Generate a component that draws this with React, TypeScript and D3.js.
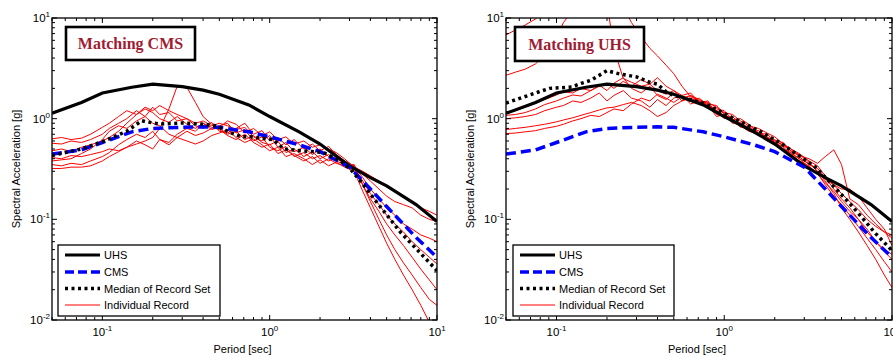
import React from 'react';
import * as d3 from 'd3';

// ---------- DATA ----------
const stdPeriods = [0.05, 0.075, 0.1, 0.15, 0.2, 0.3, 0.4, 0.5, 0.75, 1, 1.5, 2, 3, 4, 5, 7.5, 10];
const uhs = [1.13, 1.45, 1.8, 2.05, 2.2, 2.08, 1.92, 1.75, 1.37, 1.05, 0.74, 0.56, 0.34, 0.26, 0.215, 0.14, 0.095];
const cms = [0.445, 0.49, 0.58, 0.74, 0.8, 0.82, 0.83, 0.82, 0.74, 0.66, 0.55, 0.47, 0.33, 0.2, 0.134, 0.066, 0.042];

const medianLeftPeriods = [0.05, 0.075, 0.1, 0.14, 0.172, 0.184, 0.22, 0.3, 0.385, 0.48, 0.58, 0.68, 0.77, 1.05, 1.21, 1.53, 2.1, 2.65, 3.04, 3.49, 4.2, 6.07, 10];
const medianLeft = [0.43, 0.5, 0.59, 0.75, 0.955, 0.93, 0.885, 0.905, 0.885, 0.85, 0.73, 0.66, 0.66, 0.62, 0.5, 0.48, 0.46, 0.38, 0.316, 0.24, 0.16, 0.074, 0.031];

const medianRightPeriods = [0.05, 0.078, 0.091, 0.123, 0.14, 0.16, 0.2, 0.234, 0.263, 0.3, 0.36, 0.4, 0.45, 0.5, 0.58, 0.77, 1.06, 1.68, 2.2, 2.9, 3.5, 4.2, 5.8, 8, 10];
const medianRight = [1.43, 1.84, 2.0, 2.06, 2.24, 2.4, 3.0, 2.8, 2.7, 2.6, 2.3, 2.2, 1.85, 1.7, 1.6, 1.41, 1.07, 0.73, 0.56, 0.41, 0.33, 0.24, 0.135, 0.072, 0.049];

const recordPeriods = [0.05, 0.057, 0.065, 0.075, 0.085, 0.1, 0.11, 0.125, 0.14, 0.16, 0.18, 0.2, 0.22, 0.25, 0.28, 0.32, 0.36, 0.4, 0.45, 0.5, 0.56, 0.63, 0.71, 0.8, 0.9, 1, 1.12, 1.25, 1.4, 1.6, 1.8, 2, 2.25, 2.5, 2.8, 3.2, 3.6, 4, 4.5, 5, 5.6, 6.3, 7.1, 8, 9, 10];

const leftRecord1 = [0.63, 0.65, 0.62, 0.64, 0.7, 0.82, 0.9, 1.05, 1.2, 1.1, 1.25, 1.15, 1.0, 0.92, 1.05, 0.88, 0.8, 0.9, 0.78, 0.82, 0.95, 0.88, 0.72, 0.8, 0.68, 0.74, 0.62, 0.66, 0.56, 0.6, 0.52, 0.55, 0.5, 0.46, 0.4, 0.33, 0.3, 0.27, 0.24, 0.21, 0.19, 0.17, 0.15, 0.13, 0.12, 0.11];
const leftRecord2 = [0.57, 0.56, 0.6, 0.58, 0.62, 0.7, 0.8, 0.9, 1.0, 1.2, 1.05, 1.3, 1.1, 1.15, 0.95, 1.0, 0.85, 0.8, 0.92, 0.75, 0.72, 0.8, 0.9, 0.7, 0.76, 0.6, 0.65, 0.55, 0.62, 0.5, 0.56, 0.48, 0.53, 0.44, 0.38, 0.34, 0.28, 0.24, 0.2, 0.17, 0.15, 0.14, 0.13, 0.11, 0.1, 0.095];
const leftRecord3 = [0.48, 0.5, 0.47, 0.52, 0.55, 0.6, 0.65, 0.75, 0.9, 1.1, 1.3, 1.2, 1.35, 1.2, 1.1, 1.0, 0.9, 0.95, 0.85, 0.9, 0.85, 0.78, 0.82, 0.66, 0.6, 0.68, 0.52, 0.58, 0.47, 0.52, 0.44, 0.5, 0.42, 0.4, 0.36, 0.33, 0.26, 0.2, 0.16, 0.13, 0.11, 0.09, 0.08, 0.07, 0.065, 0.06];
const leftRecord4 = [0.41, 0.4, 0.43, 0.42, 0.44, 0.47, 0.5, 0.48, 0.52, 0.56, 0.6, 0.65, 0.8, 1.25, 2.1, 2.05, 1.45, 1.05, 0.88, 0.8, 0.7, 0.75, 0.62, 0.68, 0.58, 0.55, 0.6, 0.46, 0.5, 0.42, 0.47, 0.4, 0.44, 0.38, 0.35, 0.32, 0.24, 0.18, 0.14, 0.11, 0.09, 0.075, 0.06, 0.05, 0.042, 0.036];
const leftRecord5 = [0.38, 0.39, 0.4, 0.45, 0.5, 0.62, 0.75, 0.85, 0.8, 0.95, 1.05, 0.9, 0.85, 0.7, 0.65, 0.75, 0.68, 0.72, 0.8, 0.85, 0.9, 0.72, 0.78, 0.6, 0.66, 0.52, 0.48, 0.53, 0.42, 0.46, 0.4, 0.43, 0.38, 0.41, 0.37, 0.3, 0.22, 0.16, 0.12, 0.09, 0.07, 0.055, 0.042, 0.032, 0.025, 0.02];
const leftRecord6 = [0.35, 0.34, 0.36, 0.35, 0.38, 0.42, 0.46, 0.55, 0.62, 0.7, 0.65, 0.75, 0.62, 0.58, 0.7, 0.8, 0.75, 0.9, 0.82, 0.78, 0.68, 0.62, 0.7, 0.58, 0.52, 0.56, 0.45, 0.49, 0.43, 0.38, 0.42, 0.36, 0.4, 0.36, 0.34, 0.35, 0.22, 0.15, 0.1, 0.07, 0.05, 0.037, 0.028, 0.021, 0.016, 0.014];
const leftRecord7 = [0.32, 0.32, 0.33, 0.33, 0.34, 0.38, 0.42, 0.47, 0.52, 0.6, 0.55, 0.5, 0.62, 0.55, 0.65, 0.6, 0.56, 0.6, 0.68, 0.72, 0.78, 0.65, 0.58, 0.63, 0.55, 0.48, 0.52, 0.42, 0.45, 0.4, 0.35, 0.39, 0.34, 0.37, 0.33, 0.3, 0.19, 0.13, 0.085, 0.058, 0.04, 0.028, 0.02, 0.014, 0.0095, 0.007];

const rightRecord1 = [6.8, 7.6, 8.5, 9.8, 12, 14, 15, 15, 15, 15, 15, 14, 5.0, 2.5, 2.3, 2.1, 2.2, 1.9, 1.75, 1.9, 1.6, 1.7, 1.5, 1.45, 1.3, 1.15, 1.1, 0.95, 0.85, 0.8, 0.72, 0.66, 0.56, 0.5, 0.45, 0.38, 0.34, 0.27, 0.22, 0.18, 0.15, 0.125, 0.1, 0.085, 0.075, 0.065];
const rightRecord2 = [2.7, 2.9, 3.1, 3.5, 4.3, 6.5, 9, 12, 14, 15, 15, 15, 15, 13, 9, 6.5, 5.0, 4.2, 3.4, 2.8, 2.1, 1.65, 1.5, 1.35, 1.25, 1.2, 0.98, 1.0, 0.88, 0.72, 0.7, 0.6, 0.58, 0.47, 0.43, 0.4, 0.36, 0.42, 0.49, 0.35, 0.16, 0.14, 0.11, 0.09, 0.075, 0.07];
const rightRecord3 = [1.17, 1.2, 1.3, 1.42, 1.55, 1.72, 1.85, 1.8, 2.0, 1.9, 2.1, 2.25, 2.0, 2.35, 2.1, 2.45, 2.2, 2.55, 2.1, 1.9, 1.7, 1.8, 1.45, 1.5, 1.1, 1.05, 0.92, 0.85, 0.75, 0.7, 0.6, 0.58, 0.52, 0.45, 0.4, 0.36, 0.3, 0.25, 0.22, 0.2, 0.2, 0.17, 0.13, 0.1, 0.08, 0.055];
const rightRecord4 = [1.08, 1.1, 1.15, 1.25, 1.38, 1.5, 1.6, 1.72, 1.68, 1.9, 2.15, 1.9, 2.25, 2.55, 2.0, 1.8, 2.1, 1.7, 1.55, 1.8, 1.5, 1.6, 1.45, 1.3, 1.2, 1.0, 1.05, 0.88, 0.8, 0.73, 0.65, 0.62, 0.53, 0.5, 0.42, 0.35, 0.32, 0.26, 0.2, 0.16, 0.13, 0.1, 0.075, 0.06, 0.05, 0.045];
const rightRecord5 = [1.0, 1.02, 1.05, 1.1, 1.2, 1.3, 1.35, 1.5, 1.45, 1.6, 1.8, 1.5, 1.7, 1.9, 1.6, 1.5, 1.3, 1.55, 1.35, 1.6, 1.7, 1.4, 1.5, 1.35, 1.05, 1.1, 0.95, 0.9, 0.78, 0.68, 0.62, 0.55, 0.5, 0.44, 0.38, 0.34, 0.28, 0.23, 0.19, 0.15, 0.12, 0.1, 0.08, 0.06, 0.048, 0.04];
const rightRecord6 = [0.78, 0.8, 0.82, 0.85, 0.88, 0.93, 0.97, 1.02, 1.08, 1.15, 1.22, 1.28, 1.3, 1.38, 1.45, 1.35, 1.2, 1.05, 1.15, 1.35, 1.5, 1.7, 1.55, 1.4, 1.35, 1.1, 1.0, 0.82, 0.85, 0.7, 0.66, 0.58, 0.5, 0.46, 0.4, 0.33, 0.29, 0.22, 0.17, 0.14, 0.11, 0.085, 0.065, 0.05, 0.038, 0.03];
const rightRecord7 = [0.71, 0.72, 0.74, 0.76, 0.8, 0.84, 0.88, 0.95, 1.0, 1.08, 1.05, 1.15, 1.25, 1.2, 1.4, 1.6, 1.5, 1.75, 1.6, 1.45, 1.65, 1.5, 1.6, 1.35, 1.2, 1.15, 0.9, 0.92, 0.8, 0.76, 0.64, 0.6, 0.55, 0.48, 0.44, 0.37, 0.3, 0.24, 0.18, 0.13, 0.1, 0.075, 0.055, 0.04, 0.028, 0.021];

const leftRecords = [leftRecord1, leftRecord2, leftRecord3, leftRecord4, leftRecord5, leftRecord6, leftRecord7];
const rightRecords = [rightRecord1, rightRecord2, rightRecord3, rightRecord4, rightRecord5, rightRecord6, rightRecord7];

const titles = ['Matching CMS', 'Matching UHS'];
const legendLabels = ['UHS', 'CMS', 'Median of Record Set', 'Individual Record'];
const xTickExps = [-1, 0, 1];
const yTickExps = [-2, -1, 0, 1];
const xLabel = 'Period [sec]';
const yLabel = 'Spectral Acceleration [g]';

// ---------- LAYOUT ----------
const W = 893;
const H = 357;
const TOP = 18;
const BOTTOM = 320;
const SANS = 'Arial, "Liberation Sans", Helvetica, sans-serif';
const SERIF = '"Times New Roman", "Liberation Serif", serif';

type PanelCfg = {
  left: number;
  right: number;
  title: string;
  records: number[][];
  medianT: number[];
  median: number[];
  ylabelX: number;
  titleBox: [number, number, number, number];
  legendBox: [number, number, number, number];
  id: string;
};

const panels: PanelCfg[] = [
  {
    left: 52, right: 437, title: titles[0], records: leftRecords,
    medianT: medianLeftPeriods, median: medianLeft, ylabelX: 16,
    titleBox: [66, 27, 129, 33], legendBox: [58, 245, 162, 71], id: 'a',
  },
  {
    left: 506, right: 892, title: titles[1], records: rightRecords,
    medianT: medianRightPeriods, median: medianRight, ylabelX: 470,
    titleBox: [515, 27, 129, 34], legendBox: [513, 245, 161, 71], id: 'b',
  },
];

function Pow10({ x, y, exp, anchor }: { x: number; y: number; exp: number; anchor: string }) {
  return (
    <text x={x} y={y} textAnchor={anchor} fontFamily={SANS} fontSize={11.5} fill="#000">
      <tspan>10</tspan>
      <tspan dy={-5} fontSize={8}>{String(exp)}</tspan>
    </text>
  );
}

function Panel({ cfg }: { cfg: PanelCfg }) {
  const x = d3.scaleLog().domain([0.05, 10]).range([cfg.left, cfg.right]);
  const y = d3.scaleLog().domain([0.01, 10]).range([BOTTOM, TOP]);
  const line = (ts: number[], vs: number[]) =>
    d3.line<number>().x((_, i) => x(ts[i])).y((v) => y(v))(vs) || '';

  const xMinor: number[] = [];
  for (let d = -2; d <= 1; d++) {
    for (let m = 1; m <= 9; m++) {
      const v = m * Math.pow(10, d);
      if (v >= 0.05 - 1e-9 && v <= 10 + 1e-9) xMinor.push(v);
    }
  }
  const yMinor: number[] = [];
  for (let d = -2; d <= 1; d++) {
    for (let m = 1; m <= 9; m++) {
      const v = m * Math.pow(10, d);
      if (v >= 0.01 - 1e-9 && v <= 10 + 1e-9) yMinor.push(v);
    }
  }
  const isMajor = (v: number) => Math.abs(Math.log10(v) - Math.round(Math.log10(v))) < 1e-6;

  const [tbx, tby, tbw, tbh] = cfg.titleBox;
  const [lbx, lby, lbw, lbh] = cfg.legendBox;
  const legY = [lby + 10, lby + 27, lby + 43.5, lby + 60];
  const sx0 = lbx + 7;
  const sx1 = lbx + 42;

  return (
    <g>
      <defs>
        <clipPath id={'clip' + cfg.id}>
          <rect x={cfg.left} y={TOP} width={cfg.right - cfg.left} height={BOTTOM - TOP} />
        </clipPath>
      </defs>
      <rect x={cfg.left} y={TOP} width={cfg.right - cfg.left} height={BOTTOM - TOP} fill="#fff" />
      <g clipPath={`url(#clip${cfg.id})`}>
        {cfg.records.map((r, i) => (
          <path key={i} d={line(recordPeriods, r)} fill="none" stroke="#ff0000" strokeWidth={1} />
        ))}
        <path d={line(stdPeriods, uhs)} fill="none" stroke="#000" strokeWidth={3.2} />
        <path d={line(stdPeriods, cms)} fill="none" stroke="#0000ff" strokeWidth={3.5} strokeDasharray="10,5" />
        <path d={line(cfg.medianT, cfg.median)} fill="none" stroke="#000" strokeWidth={3.5} strokeDasharray="3,3.5" />
      </g>
      {/* ticks */}
      {xMinor.map((v, i) => {
        const len = isMajor(v) ? 5 : 3;
        const px = x(v);
        return (
          <g key={'xt' + i}>
            <line x1={px} x2={px} y1={BOTTOM} y2={BOTTOM - len} stroke="#000" strokeWidth={1} />
            <line x1={px} x2={px} y1={TOP} y2={TOP + len} stroke="#000" strokeWidth={1} />
          </g>
        );
      })}
      {yMinor.map((v, i) => {
        const len = isMajor(v) ? 5 : 3;
        const py = y(v);
        return (
          <g key={'yt' + i}>
            <line x1={cfg.left} x2={cfg.left + len} y1={py} y2={py} stroke="#000" strokeWidth={1} />
            <line x1={cfg.right} x2={cfg.right - len} y1={py} y2={py} stroke="#000" strokeWidth={1} />
          </g>
        );
      })}
      <rect x={cfg.left} y={TOP} width={cfg.right - cfg.left} height={BOTTOM - TOP} fill="none" stroke="#000" strokeWidth={1.3} />
      {xTickExps.map((e) => (
        <Pow10 key={'xl' + e} x={x(Math.pow(10, e))} y={336} exp={e} anchor="middle" />
      ))}
      {yTickExps.map((e) => (
        <Pow10 key={'yl' + e} x={cfg.left - 2} y={y(Math.pow(10, e)) + 4} exp={e} anchor="end" />
      ))}
      <text x={(cfg.left + cfg.right) / 2 - 2} y={353} textAnchor="middle" fontFamily={SANS} fontSize={11} fill="#000">
        {xLabel}
      </text>
      <text
        transform={`translate(${cfg.ylabelX},${(TOP + BOTTOM) / 2}) rotate(-90)`}
        textAnchor="middle"
        fontFamily={SANS}
        fontSize={11}
        fill="#000"
        dy={4}
      >
        {yLabel}
      </text>
      {/* title box */}
      <rect x={tbx} y={tby} width={tbw} height={tbh} fill="#fff" stroke="#000" strokeWidth={2.6} />
      <text x={tbx + tbw / 2} y={tby + tbh / 2 + 5.5} textAnchor="middle" fontFamily={SERIF} fontWeight="bold" fontSize={16} fill="#a01c34">
        {cfg.title}
      </text>
      {/* legend */}
      <rect x={lbx} y={lby} width={lbw} height={lbh} fill="#fff" stroke="#000" strokeWidth={1.3} />
      <line x1={sx0} x2={sx1} y1={legY[0]} y2={legY[0]} stroke="#000" strokeWidth={3.2} />
      <line x1={sx0} x2={sx1} y1={legY[1]} y2={legY[1]} stroke="#0000ff" strokeWidth={3.5} strokeDasharray="9,4" />
      <line x1={sx0} x2={sx1} y1={legY[2]} y2={legY[2]} stroke="#000" strokeWidth={3.5} strokeDasharray="3,3.5" />
      <line x1={sx0} x2={sx1} y1={legY[3]} y2={legY[3]} stroke="#ff0000" strokeWidth={1} />
      {legendLabels.map((l, i) => (
        <text key={l} x={sx1 + 4} y={legY[i] + 4} fontFamily={SANS} fontSize={11} fill="#000">
          {l}
        </text>
      ))}
    </g>
  );
}

export default function App() {
  return (
    <svg width={W} height={H} style={{ position: 'absolute', left: 0, top: 0, background: '#fff' }}>
      <rect x={0} y={0} width={W} height={H} fill="#fff" />
      {panels.map((p) => (
        <Panel key={p.id} cfg={p} />
      ))}
    </svg>
  );
}
